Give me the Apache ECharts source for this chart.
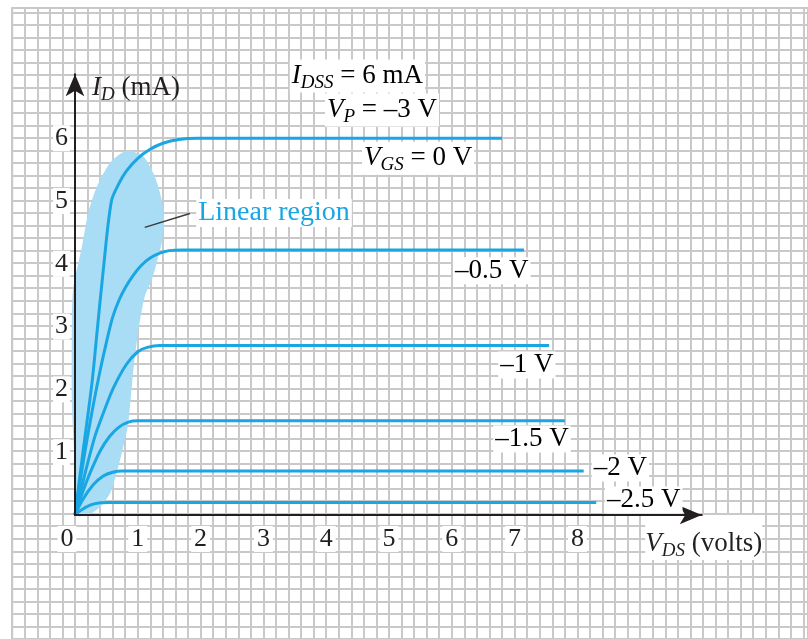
<!DOCTYPE html>
<html>
<head>
<meta charset="utf-8">
<script src="https://cdn.jsdelivr.net/npm/echarts@6/dist/echarts.min.js"></script>
<style>
  html, body { margin: 0; padding: 0; background: #fff; }
  #chart { width: 808px; height: 639px; }
</style>
</head>
<body>
<div id="chart"></div>
<script>
// Tick values on the two axes
const xTicks = [0, 1, 2, 3, 4, 5, 6, 7, 8];
const yTicks = [1, 2, 3, 4, 5, 6];

// Drain characteristics, [V_DS (V), I_D (mA)] for each gate-source voltage
const curveVgs0 = [[0, 0], [0.12, 0.95], [0.27, 2.1], [0.345, 2.85], [0.45, 3.9], [0.58, 5.0], [0.7, 5.28], [0.82, 5.48], [1.0, 5.68], [1.19, 5.82], [1.4, 5.92], [1.65, 5.98], [1.95, 6.0], [6.8, 6.0]];
const curveVgsM05 = [[0, 0], [0.1, 0.65], [0.2, 1.25], [0.3, 1.8], [0.4, 2.3], [0.5, 2.75], [0.6, 3.15], [0.7, 3.42], [0.8, 3.62], [0.93, 3.82], [1.05, 3.97], [1.19, 4.09], [1.35, 4.17], [1.5, 4.21], [1.7, 4.22], [7.15, 4.22]];
const curveVgsM1 = [[0, 0], [0.1, 0.42], [0.2, 0.82], [0.32, 1.26], [0.45, 1.62], [0.61, 2.02], [0.82, 2.4], [1.0, 2.6], [1.15, 2.67], [1.35, 2.7], [7.55, 2.7]];
const curveVgsM15 = [[0, 0], [0.12, 0.36], [0.24, 0.67], [0.4, 1.02], [0.55, 1.25], [0.7, 1.4], [0.85, 1.48], [1.0, 1.5], [7.8, 1.5]];
const curveVgsM2 = [[0, 0], [0.12, 0.24], [0.29, 0.48], [0.45, 0.62], [0.6, 0.68], [0.75, 0.7], [8.1, 0.7]];
const curveVgsM25 = [[0, 0], [0.1, 0.08], [0.25, 0.16], [0.4, 0.195], [0.55, 0.2], [8.3, 0.2]];

// Outline of the shaded linear (ohmic) region
const linearRegion = [
  [0.03, 0], [0.0, 0.76], [-0.03, 1.31], [-0.05, 1.83], [-0.05, 2.95], [-0.03, 3.6],
  [0.11, 4.27], [0.21, 4.81], [0.35, 5.23], [0.56, 5.61], [0.82, 5.80],
  [1.09, 5.71], [1.27, 5.39], [1.38, 5.02], [1.42, 4.70], [1.38, 4.33], [1.30, 4.01],
  [1.22, 3.74], [1.11, 3.48], [1.01, 2.95], [0.93, 2.31], [0.88, 1.78], [0.84, 1.41],
  [0.69, 0.77], [0.56, 0.35], [0.40, 0.13], [0.21, 0]
];
// Pointer from the "Linear region" caption into the shaded area
const leaderLine = [[1.11, 4.58], [1.83, 4.80]];

// Caption texts and their anchor points (left edge, vertical middle) in data units
const captions = [
  { text: '{it|I}{sub|DSS}{n| = 6 mA}', at: [3.42, 6.99] },
  { text: '{it|V}{sub|P}{n| = –3 V}', at: [3.98, 6.45] },
  { text: '{it|V}{sub|GS}{n| = 0 V}', at: [4.57, 5.68] },
  { text: '{n|–0.5 V}', at: [6.02, 3.89] },
  { text: '{n|–1 V}', at: [6.74, 2.39] },
  { text: '{n|–1.5 V}', at: [6.66, 1.21] },
  { text: '{n|–2 V}', at: [8.23, 0.75] },
  { text: '{n|–2.5 V}', at: [8.44, 0.24] }
];
const regionCaption = { text: 'Linear region', at: [1.93, 4.81] };

const FONT = 'Liberation Serif';
const INK = '#231f20';
const BLUE = '#19a6e3';
const SHADE = '#a9dcf5';
const PAPER = '#c9c9c9';

const rich = {
  it: { fontFamily: FONT, fontSize: 27, fontStyle: 'italic', color: INK },
  sub: { fontFamily: FONT, fontSize: 19, fontStyle: 'italic', color: INK, padding: [14, 0, 0, 0] },
  n: { fontFamily: FONT, fontSize: 27, color: INK }
};

// Pixel layout: origin at (75, 515), 62.8 px per volt / per mA, paper cell = 1/5 unit
const ORIGIN_X = 75, ORIGIN_Y = 515, PX = 62.8, CELL = PX / 5;
const X_MAX = 9.98, Y_MAX = 7.02;

const chart = echarts.init(document.getElementById('chart'), null, { renderer: 'canvas' });

function lineSeries(data) {
  return {
    type: 'line', xAxisIndex: 1, yAxisIndex: 1, data: data, zlevel: 1,
    smooth: 0.3, symbol: 'none', silent: true,
    lineStyle: { color: BLUE, width: 3 }, z: 3
  };
}

const paperLeft = ORIGIN_X - 5 * CELL;
const paperTop = 8;
const paperBottomPx = ORIGIN_Y + 10 * CELL;

const tickRich = {
  n: { fontFamily: FONT, fontSize: 26, color: INK, backgroundColor: '#fff', padding: [0, 3] },
  gap: { width: 16 }
};

chart.setOption({
  animation: false,
  backgroundColor: '#fff',
  grid: [
    {
      left: paperLeft, top: paperTop,
      width: 808 - paperLeft, height: paperBottomPx - paperTop,
      show: true, borderColor: PAPER, borderWidth: 2
    },
    {
      left: ORIGIN_X, top: ORIGIN_Y - Y_MAX * PX,
      width: X_MAX * PX, height: Y_MAX * PX
    }
  ],
  xAxis: [
    {
      gridIndex: 0, type: 'value', min: -5, max: -5 + (808 - paperLeft) / CELL, interval: 1,
      axisLine: { show: false }, axisTick: { show: false }, axisLabel: { show: false },
      splitLine: { show: true, lineStyle: { color: PAPER, width: 2 } }
    },
    {
      gridIndex: 1, type: 'value', min: 0, max: X_MAX, interval: 1, zlevel: 1, z: 5,
      axisLine: { show: true, onZero: false, symbol: ['none', 'arrow'], symbolSize: [14, 22], lineStyle: { color: INK, width: 2 } },
      axisTick: { show: false },
      splitLine: { show: false },
      axisLabel: {
        customValues: xTicks, margin: 11,
        formatter: v => (v === 0 ? '{n|0}{gap|}' : '{n|' + v + '}'),
        rich: tickRich
      },
      name: '{it|V}{sub|DS}{n| (volts)}', nameLocation: 'end', nameGap: 2,
      nameTextStyle: { align: 'center', verticalAlign: 'top', padding: [12, 0, 0, 0], backgroundColor: '#fff', rich: rich }
    }
  ],
  yAxis: [
    {
      gridIndex: 0, type: 'value', min: -10, max: -10 + (paperBottomPx - paperTop) / CELL, interval: 1,
      axisLine: { show: false }, axisTick: { show: false }, axisLabel: { show: false },
      splitLine: { show: true, lineStyle: { color: PAPER, width: 2 } }
    },
    {
      gridIndex: 1, type: 'value', min: 0, max: Y_MAX, interval: 1, zlevel: 1, z: 5,
      axisLine: { show: true, onZero: false, symbol: ['none', 'arrow'], symbolSize: [14, 22], lineStyle: { color: INK, width: 2 } },
      axisTick: { show: false },
      splitLine: { show: false },
      axisLabel: {
        customValues: yTicks, margin: 5,
        fontFamily: FONT, fontSize: 26, color: INK,
        backgroundColor: '#fff', padding: [0, 2]
      },
      name: '{it|I}{sub|D}{n| (mA)}', nameLocation: 'end', nameGap: -14,
      nameTextStyle: { align: 'left', verticalAlign: 'middle', padding: [0, 0, 0, 17], rich: rich }
    }
  ],
  series: [
    {
      type: 'custom', xAxisIndex: 1, yAxisIndex: 1, coordinateSystem: 'cartesian2d',
      data: [[0, 0]], clip: false, silent: true, zlevel: 1, z: 2,
      renderItem: (params, api) => ({
        type: 'polygon',
        shape: { points: linearRegion.map(p => api.coord(p)), smooth: 0.25 },
        style: { fill: SHADE }
      })
    },
    {
      type: 'line', xAxisIndex: 1, yAxisIndex: 1, data: leaderLine, zlevel: 1,
      symbol: 'none', silent: true, z: 3,
      lineStyle: { color: '#3a3a3a', width: 1.5 }
    },
    lineSeries(curveVgs0),
    lineSeries(curveVgsM05),
    lineSeries(curveVgsM1),
    lineSeries(curveVgsM15),
    lineSeries(curveVgsM2),
    lineSeries(curveVgsM25)
  ]
});

// Captions placed at data-space anchors
const toPx = p => chart.convertToPixel({ xAxisIndex: 1, yAxisIndex: 1 }, p);
const graphics = captions.map(c => {
  const [x, y] = toPx(c.at);
  return {
    type: 'text', x: x, y: y, zlevel: 1, z: 10,
    style: { text: c.text, rich: rich, align: 'left', verticalAlign: 'middle', backgroundColor: '#fff', padding: [0, 2] }
  };
});
{
  const [x, y] = toPx(regionCaption.at);
  graphics.push({
    type: 'text', x: x, y: y, zlevel: 1, z: 10,
    style: { text: regionCaption.text, fontFamily: FONT, fontSize: 28, fill: BLUE, align: 'left', verticalAlign: 'middle', backgroundColor: '#fff', padding: [0, 2] }
  });
}
chart.setOption({ graphic: graphics });
</script>
</body>
</html>
